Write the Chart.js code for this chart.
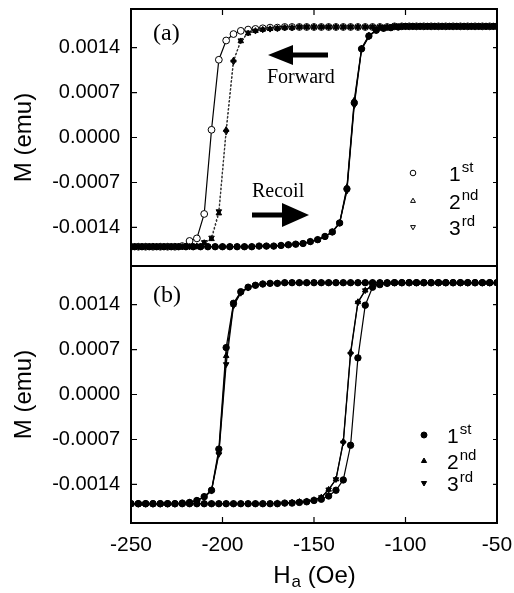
<!DOCTYPE html>
<html>
<head>
<meta charset="utf-8">
<script src="https://cdn.jsdelivr.net/npm/chart.js@4/dist/chart.umd.min.js"></script>
<style>
  body { margin: 0; background: #fff; }
</style>
</head>
<body>
<canvas id="loops" width="514" height="593"></canvas>
<script>
// M values are stored in units of 1e-5 emu
const unit = 1e-5;

const xTicks = [-250, -200, -150, -100, -50];
const yTicks = [-0.0014, -0.0007, 0, 0.0007, 0.0014];
const legendText = [['1', 'st'], ['2', 'nd'], ['3', 'rd']];

// field grid (Oe) of the forward branches and of panel (b) recoil
const hForward = [
  -250, -246, -242, -238, -234, -230, -226, -222, -218, -214,
  -210, -206, -202, -198, -194, -190, -186, -182, -178, -174,
  -170, -166, -162, -158, -154, -150, -146, -142, -138, -134,
  -130, -126, -122, -118, -114, -110, -106, -102, -98, -94,
  -90, -86, -82, -78, -74, -70, -66, -62, -58, -54,
  -50
];
// field grid of panel (a) recoil
const hRecoilA = [
  -248, -244, -240, -236, -232, -228, -224, -220, -216, -212,
  -208, -204, -200, -196, -192, -188, -184, -180, -176, -172,
  -168, -164, -160, -156, -152, -148, -144, -140, -136, -132,
  -128, -124, -120, -116, -112, -108, -104, -100, -96, -92,
  -88, -84, -80, -76, -72, -68, -64, -60, -56, -52
];

// panel (a)
const aFwd1 = [
  -170, -170, -170, -170, -170, -170, -170, -169, -161, -157,
  -119, 12, 121, 151, 161, 166, 168, 169, 170, 171,
  171, 172, 172, 172, 172, 172, 172, 172, 172, 172,
  172, 172, 172, 172, 172, 172, 173, 173, 173, 173,
  173, 173, 173, 173, 173, 173, 173, 173, 173, 173,
  173
];
const aFwd2 = [
  -170, -170, -170, -170, -170, -170, -170, -170, -170, -169,
  -164, -158, -118, 12, 120, 150, 162, 166, 168, 169,
  170, 171, 171, 172, 172, 172, 172, 172, 172, 172,
  172, 172, 172, 172, 172, 172, 173, 173, 173, 173,
  173, 173, 173, 173, 173, 173, 173, 173, 173, 173,
  173
];
const aFwd3 = [
  -170, -170, -170, -170, -170, -170, -170, -170, -170, -169,
  -163, -156, -115, 9, 118, 151, 163, 166, 168, 169,
  170, 171, 171, 172, 172, 172, 172, 172, 172, 172,
  172, 172, 172, 172, 172, 172, 173, 173, 173, 173,
  173, 173, 173, 173, 173, 173, 173, 173, 173, 173,
  173
];
const aRec1 = [
  -170, -170, -170, -170, -170, -170, -170, -170, -170, -170,
  -170, -170, -170, -170, -170, -170, -170, -169, -169, -169,
  -168, -167, -166, -165, -162, -159, -154, -147, -133, -80,
  54, 138, 158, 167, 170, 171, 172, 173, 173, 173,
  173, 173, 173, 173, 173, 173, 173, 173, 173, 173
];
const aRec2 = [
  -170, -170, -170, -170, -170, -170, -170, -170, -170, -170,
  -170, -170, -170, -170, -170, -170, -170, -169, -169, -169,
  -168, -167, -166, -165, -162, -159, -154, -147, -133, -77,
  58, 139, 159, 167, 170, 171, 172, 173, 173, 173,
  173, 173, 173, 173, 173, 173, 173, 173, 173, 173
];
const aRec3 = [
  -170, -170, -170, -170, -170, -170, -170, -170, -170, -170,
  -170, -170, -170, -170, -170, -170, -170, -169, -169, -169,
  -168, -167, -166, -165, -162, -159, -154, -147, -133, -83,
  50, 137, 157, 167, 170, 171, 172, 173, 173, 173,
  173, 173, 173, 173, 173, 173, 173, 173, 173, 173
];

// panel (b)
const bFwd1 = [
  -170, -170, -170, -170, -170, -170, -170, -169, -168, -165,
  -159, -149, -85, 73, 142, 160, 167, 170, 172, 173,
  173, 174, 174, 174, 174, 174, 174, 174, 174, 174,
  174, 174, 174, 174, 174, 174, 174, 174, 174, 174,
  174, 174, 174, 174, 174, 174, 174, 174, 174, 174,
  174
];
const bFwd2 = [
  -170, -170, -170, -170, -170, -170, -170, -169, -168, -165,
  -159, -149, -90, 60, 140, 159, 167, 170, 172, 173,
  173, 174, 174, 174, 174, 174, 174, 174, 174, 174,
  174, 174, 174, 174, 174, 174, 174, 174, 174, 174,
  174, 174, 174, 174, 174, 174, 174, 174, 174, 174,
  174
];
const bFwd3 = [
  -170, -170, -170, -170, -170, -170, -170, -169, -168, -165,
  -160, -150, -93, 47, 138, 158, 166, 170, 172, 173,
  173, 174, 174, 174, 174, 174, 174, 174, 174, 174,
  174, 174, 174, 174, 174, 174, 174, 174, 174, 174,
  174, 174, 174, 174, 174, 174, 174, 174, 174, 174,
  174
];
const bRec1 = [
  -170, -170, -170, -170, -170, -170, -170, -170, -170, -170,
  -170, -170, -170, -170, -170, -170, -170, -170, -170, -170,
  -170, -169, -169, -168, -167, -165, -163, -158, -149, -133,
  -79, 57, 139, 167, 171, 173, 174, 174, 174, 174,
  174, 174, 174, 174, 174, 174, 174, 174, 174, 174,
  174
];
const bRec2 = [
  -170, -170, -170, -170, -170, -170, -170, -170, -170, -170,
  -170, -170, -170, -170, -170, -170, -170, -170, -170, -170,
  -169, -169, -168, -167, -166, -164, -160, -148, -132, -73,
  66, 144, 162, 170, 172, 173, 174, 174, 174, 174,
  174, 174, 174, 174, 174, 174, 174, 174, 174, 174,
  174
];
const bRec3 = [
  -170, -170, -170, -170, -170, -170, -170, -170, -170, -170,
  -170, -170, -170, -170, -170, -170, -170, -170, -170, -170,
  -169, -169, -168, -167, -166, -164, -160, -148, -132, -75,
  63, 143, 162, 170, 172, 173, 174, 174, 174, 174,
  174, 174, 174, 174, 174, 174, 174, 174, 174, 174,
  174
];

const pts = (h, m) => h.map((x, i) => ({ x: x, y: m[i] * unit }));

const series = (h, m, axis, style, extra) => Object.assign({
  data: pts(h, m),
  yAxisID: axis,
  borderColor: '#000',
  borderWidth: 1.2,
  backgroundColor: '#000',
  pointBorderColor: '#000',
  pointBackgroundColor: '#000',
  pointStyle: style,
  pointRadius: 3.2,
  pointBorderWidth: 1,
  tension: 0
}, extra || {});

const down = { pointRotation: 180 };
const dotted = { borderDash: [2, 2], borderColor: '#333' };

// earlier datasets are painted on top
const datasets = [
  series(hRecoilA, aRec1, 'yA', 'circle'),
  series(hRecoilA, aRec2, 'yA', 'triangle'),
  series(hRecoilA, aRec3, 'yA', 'triangle', down),
  series(hForward, aFwd2, 'yA', 'triangle', dotted),
  series(hForward, aFwd3, 'yA', 'triangle', Object.assign({}, dotted, down)),
  series(hForward, aFwd1, 'yA', 'circle', { pointBackgroundColor: '#fff', pointRadius: 3.4 }),
  series(hForward, bFwd1, 'yB', 'circle'),
  series(hForward, bFwd2, 'yB', 'triangle'),
  series(hForward, bFwd3, 'yB', 'triangle', down),
  series(hForward, bRec1, 'yB', 'circle'),
  series(hForward, bRec2, 'yB', 'triangle'),
  series(hForward, bRec3, 'yB', 'triangle', down)
];

const sans = '"Liberation Sans", Arial, sans-serif';
const serif = '"Liberation Serif", "Times New Roman", serif';

const yAxis = () => ({
  type: 'linear',
  position: 'left',
  stack: 'panels',
  stackWeight: 1,
  min: -0.002,
  max: 0.002,
  grid: { display: false, drawTicks: false },
  border: { display: false },
  afterBuildTicks: s => { s.ticks = yTicks.map(v => ({ value: v })); },
  afterFit: s => { s.width = 121; s.paddingTop = 0; s.paddingBottom = 0; },
  ticks: {
    padding: 11,
    color: '#000',
    font: { family: sans, size: 20 },
    callback: v => Number(v).toFixed(4)
  },
  title: {
    display: true,
    text: 'M (emu)',
    color: '#000',
    padding: 0,
    font: { family: sans, size: 24 }
  }
});

function ordinal(ctx, x, y, num, suf) {
  ctx.textAlign = 'left';
  ctx.textBaseline = 'middle';
  ctx.font = '21px ' + sans;
  ctx.fillText(num, x, y);
  const w = ctx.measureText(num).width;
  ctx.font = '15px ' + sans;
  ctx.fillText(suf, x + w + 1, y - 7);
}

function arrow(ctx, tail, tip, y, headLen, headHalf, shaft) {
  const dir = Math.sign(tip - tail);
  const base = tip - dir * headLen;
  ctx.fillRect(Math.min(tail, base), y - shaft / 2, Math.abs(base - tail) + 1, shaft);
  ctx.beginPath();
  ctx.moveTo(tip, y);
  ctx.lineTo(base, y - headHalf);
  ctx.lineTo(base, y + headHalf);
  ctx.closePath();
  ctx.fill();
}

const decor = {
  id: 'decor',
  afterDatasetsDraw(chart) {
    const ctx = chart.ctx;
    const area = chart.chartArea;
    const x = chart.scales.x, yA = chart.scales.yA, yB = chart.scales.yB;
    const drawPoint = Chart.helpers.drawPoint;
    ctx.save();
    ctx.strokeStyle = '#000';
    ctx.fillStyle = '#000';

    // frames
    ctx.lineWidth = 2;
    ctx.strokeRect(area.left, area.top, area.right - area.left, area.bottom - area.top);
    ctx.beginPath();
    ctx.moveTo(area.left, yA.bottom);
    ctx.lineTo(area.right, yA.bottom);
    ctx.stroke();

    // inward tick marks
    ctx.lineWidth = 1.2;
    ctx.beginPath();
    xTicks.forEach(v => {
      const px = x.getPixelForValue(v);
      ctx.moveTo(px, yA.top); ctx.lineTo(px, yA.top + 6);
      ctx.moveTo(px, yB.bottom); ctx.lineTo(px, yB.bottom - 6);
    });
    [yA, yB].forEach(s => yTicks.forEach(v => {
      const py = s.getPixelForValue(v);
      ctx.moveTo(area.left, py); ctx.lineTo(area.left + 6, py);
      ctx.moveTo(area.right, py); ctx.lineTo(area.right - 4, py);
    }));
    ctx.stroke();

    // panel letters and arrows
    ctx.textAlign = 'left';
    ctx.textBaseline = 'middle';
    ctx.font = '24px ' + serif;
    ctx.fillText('(a)', 153, 34);
    ctx.fillText('(b)', 153, 296);
    ctx.font = '20px ' + serif;
    ctx.fillText('Forward', 267, 78);
    ctx.fillText('Recoil', 252, 192);
    arrow(ctx, 327, 268, 55, 25, 10, 5);
    arrow(ctx, 252, 309, 215, 27, 12, 5);

    // legends
    const rowsA = [173, 201, 227];
    const rowsB = [435, 461, 483];
    const styles = [['circle', 0], ['triangle', 0], ['triangle', 180]];
    ctx.lineWidth = 1;
    styles.forEach((st, i) => {
      ctx.fillStyle = '#fff';
      drawPoint(ctx, { pointStyle: st[0], rotation: st[1], radius: 2.8, borderWidth: 1 }, 413, rowsA[i]);
      ctx.fillStyle = '#000';
      drawPoint(ctx, { pointStyle: st[0], rotation: st[1], radius: 3, borderWidth: 1 }, 424, rowsB[i]);
      ordinal(ctx, 449, rowsA[i] + 2, legendText[i][0], legendText[i][1]);
      ordinal(ctx, 447, rowsB[i] + 2, legendText[i][0], legendText[i][1]);
    });

    // x axis title with subscript
    ctx.fillStyle = '#000';
    ctx.textBaseline = 'alphabetic';
    const big = '24px ' + sans, small = '17px ' + sans;
    ctx.font = big;
    const wH = ctx.measureText('H').width;
    const wR = ctx.measureText(' (Oe)').width;
    ctx.font = small;
    const wa = ctx.measureText('a').width;
    let tx = (area.left + area.right) / 2 - (wH + wa + wR) / 2;
    const base = 583;
    ctx.font = big;
    ctx.fillText('H', tx, base);
    tx += wH;
    ctx.font = small;
    ctx.fillText('a', tx + 1, base + 4);
    tx += wa + 1;
    ctx.font = big;
    ctx.fillText(' (Oe)', tx, base);
    ctx.restore();
  }
};

Chart.defaults.color = '#000';

new Chart(document.getElementById('loops'), {
  type: 'line',
  data: { datasets: datasets },
  options: {
    responsive: false,
    animation: false,
    layout: { padding: { left: 10, right: 17, top: 9, bottom: 0 } },
    plugins: { legend: { display: false }, tooltip: { enabled: false } },
    scales: {
      x: {
        type: 'linear',
        min: -250,
        max: -50,
        grid: { display: false, drawTicks: false },
        border: { display: false },
        afterBuildTicks: s => { s.ticks = xTicks.map(v => ({ value: v })); },
        afterFit: s => { s.height = 70; s.paddingLeft = 0; s.paddingRight = 0; },
        ticks: { padding: 10, color: '#000', font: { family: sans, size: 21 } }
      },
      yB: yAxis(),
      yA: yAxis()
    }
  },
  plugins: [decor]
});
</script>
</body>
</html>
